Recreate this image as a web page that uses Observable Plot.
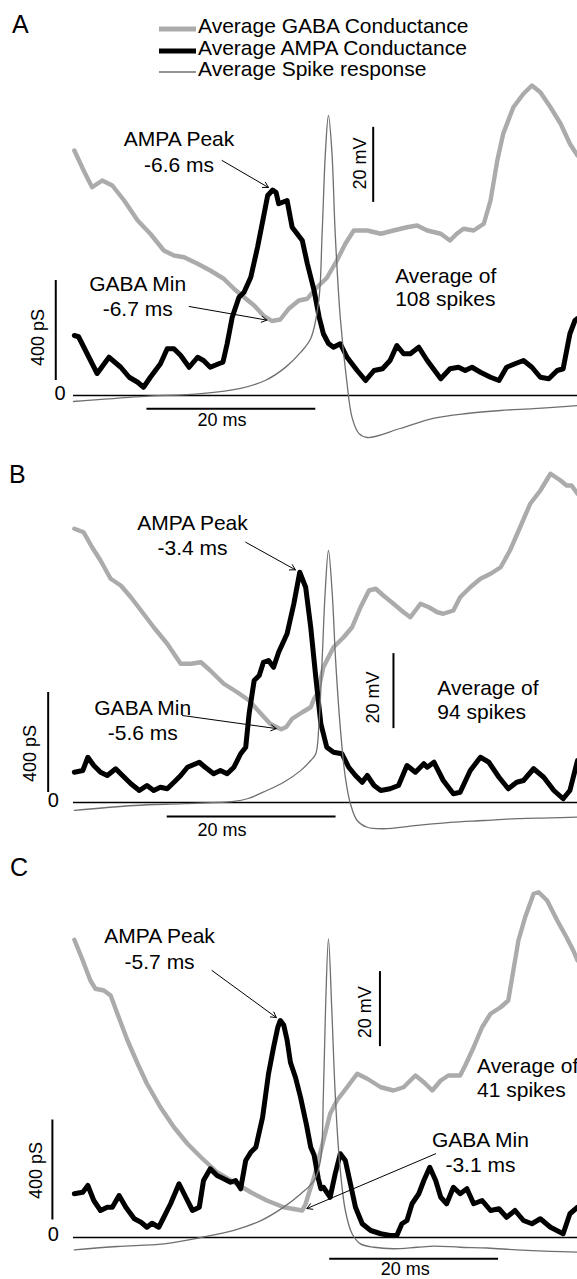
<!DOCTYPE html>
<html>
<head>
<meta charset="utf-8">
<script src="https://cdn.jsdelivr.net/npm/d3@7"></script>
<script src="https://cdn.jsdelivr.net/npm/@observablehq/plot@0.6"></script>
<style>
  html, body { margin: 0; padding: 0; background: #fff; overflow: hidden; }
  #figure { position: relative; width: 577px; height: 1279px; overflow: hidden; background: #fff; }
  #figure > svg { position: absolute; left: 0; }
</style>
</head>
<body>
<div id="figure"></div>
<script>
const FONT = '"Liberation Sans", Arial, Helvetica, sans-serif';

// Time relative to the peak of the averaged spike (ms); same window in every panel
const tDomain = [-30.2, 29.5];
// Membrane potential that sits on the 0 pS line, and how many pS one mV spans
// (the 20 mV bar is drawn as tall as 300 pS)
const vAtZero = -60;
const pSperMV = 15;

// Scale-bar sizes
const msBar = 20, pSBar = 400, mVBar = 20;

const seriesNames = ["Average GABA Conductance", "Average AMPA Conductance", "Average Spike response"];
const panelLetters = ["A", "B", "C"];
const spikeCounts = [108, 94, 41];

// ---------- Panel A ----------
const gabaA_t  = [-30.1,-29.0,-28.0,-26.8,-25.6,-24.2,-22.6,-21.1,-19.5,-18.3,-17.1,-15.5,-14.0,-12.4,-11.2,-10.0,-8.8,-7.7,-6.7,-5.7,-4.7,-3.5,-2.5,-1.6,-0.2,1.0,2.0,3.0,4.6,6.2,7.7,9.3,10.5,11.7,13.3,14.4,15.2,16.0,17.2,18.4,19.2,20.0,20.7,21.9,23.1,24.1,25.1,26.3,27.5,28.6,29.5];
const gabaA_pS = [980,900,833,860,840,780,700,647,580,560,553,527,500,467,427,393,360,320,298,304,347,380,387,425,470,540,607,660,660,647,660,673,680,660,647,620,647,667,660,687,780,940,1047,1153,1207,1240,1213,1153,1087,1007,960];

const ampaA_t  = [-30.1,-29.6,-28.6,-27.4,-26.0,-24.6,-23.6,-22.6,-21.9,-21.1,-19.9,-19.1,-18.3,-17.5,-16.5,-15.5,-14.8,-14.0,-13.0,-12.5,-12.0,-11.4,-10.6,-10.0,-9.2,-8.4,-7.7,-7.2,-6.6,-6.2,-5.9,-4.9,-4.3,-3.1,-2.5,-1.7,-1.1,-0.6,0.0,0.6,1.4,2.2,3.4,4.4,5.4,6.4,7.3,8.1,8.9,9.7,10.7,11.7,13.3,14.4,15.4,16.2,17.0,18.0,19.2,20.2,21.1,22.1,23.1,24.1,25.1,26.1,27.1,27.8,28.6,29.2,29.5];
const ampaA_pS = [240,235,168,88,153,113,73,53,33,73,127,187,187,160,113,153,140,113,127,133,207,313,393,413,473,593,713,800,822,812,767,780,673,620,527,420,313,247,208,193,207,153,100,60,100,107,140,200,167,167,193,140,67,107,113,100,113,93,73,60,113,127,140,113,73,67,100,107,247,300,308];

const vmA_t  = [-30.2,-22.2,-15.1,-10.4,-7.5,-5.1,-3.3,-2.1,-1.15,-0.75,-0.35,0,0.4,0.8,1.4,2.2,2.8,3.6,4.6,8.5,12.4,16.4,20.4,24.3,28.3,29.5];
const vmA_mV = [-61.6,-60.3,-59.5,-58.1,-56.0,-52.5,-48.5,-44.8,-34.7,-16.8,5.3,14.7,5.3,-16.8,-39.2,-56.8,-65.9,-70.1,-71.2,-68.8,-66.1,-64.8,-64.0,-63.5,-62.9,-62.7];

// ---------- Panel B ----------
const gabaB_t  = [-30.1,-29.0,-28.0,-27.0,-25.8,-24.6,-23.4,-22.2,-20.7,-19.1,-17.5,-16.3,-15.1,-14.0,-12.4,-10.8,-9.4,-8.0,-6.9,-6.0,-5.6,-5.0,-4.3,-3.1,-2.1,-1.7,-1.3,-0.6,0.6,1.8,2.8,3.8,4.8,5.6,6.5,7.7,8.9,9.7,10.9,11.9,12.9,13.6,14.8,15.6,16.8,18.0,19.2,20.4,21.5,22.7,23.9,25.1,26.3,27.5,28.2,28.8,29.5];
const gabaB_pS = [1095,1081,1021,968,895,868,821,768,701,635,555,555,561,528,475,441,408,355,315,299,293,302,335,361,381,415,435,541,621,661,701,781,848,855,828,795,761,741,795,781,761,755,768,821,861,895,915,941,1008,1101,1195,1248,1315,1288,1268,1268,1235];

const ampaB_t  = [-30.1,-29.1,-28.5,-27.8,-27.0,-26.2,-25.2,-24.4,-23.4,-22.4,-21.5,-20.7,-19.9,-19.1,-18.3,-17.5,-16.7,-15.3,-14.6,-13.6,-12.8,-12.0,-11.2,-10.4,-9.8,-9.4,-8.8,-8.2,-7.7,-7.1,-6.5,-5.9,-4.9,-4.1,-3.4,-2.7,-2.1,-1.5,-0.9,-0.2,0.6,1.6,2.4,3.2,4.0,4.6,5.4,6.2,7.3,8.3,9.3,10.3,11.3,11.7,12.5,13.6,14.8,15.6,16.8,18.0,19.0,20.2,21.3,22.3,23.1,24.3,25.5,26.7,27.8,28.6,29.5];
const ampaB_pS = [121,128,181,148,121,108,135,108,75,48,68,48,61,55,81,108,141,161,141,115,128,115,141,195,221,355,488,508,561,568,541,601,675,795,921,861,701,501,315,221,201,195,141,108,81,108,68,48,55,68,148,121,155,141,161,88,35,41,128,181,161,101,55,81,88,135,101,48,15,48,168];

const vmB_t  = [-30.1,-23.0,-17.1,-11.2,-9.6,-7.3,-5.3,-3.3,-2.1,-1.5,-1.15,-0.75,-0.4,0,0.45,0.85,1.4,2.0,2.6,3.4,4.6,6.5,10.5,14.4,18.4,22.3,26.3,29.5];
const vmB_mV = [-62.1,-60.8,-60.3,-59.7,-59.0,-56.8,-54.6,-51.5,-48.8,-47.0,-40.0,-22.1,-4.4,7.2,-4.4,-22.1,-40.0,-53.3,-60.3,-64.8,-66.6,-67.0,-66.1,-65.3,-64.8,-64.3,-64.1,-63.9];

// ---------- Panel C ----------
const gabaC_t  = [-30.1,-29.1,-28.2,-27.6,-26.6,-25.8,-25.0,-23.8,-22.6,-21.5,-19.9,-18.3,-16.7,-15.1,-13.2,-11.2,-9.2,-7.3,-5.3,-3.1,-2.7,-2.1,-1.7,-1.2,-0.6,0.2,1.0,2.2,3.4,4.6,6.2,7.7,8.9,10.3,11.3,12.3,13.3,14.2,15.6,16.2,17.2,18.2,19.2,20.4,21.3,21.9,22.5,23.3,24.3,24.9,25.9,27.1,28.2,29.0,29.5];
const gabaC_pS = [1191,1108,1028,995,988,968,895,788,695,615,521,441,375,321,261,221,181,148,121,108,135,201,241,308,388,495,548,601,655,635,601,588,601,648,621,588,628,648,648,688,761,841,895,921,948,1068,1188,1281,1375,1381,1348,1268,1201,1148,1108];

const ampaC_t  = [-30.1,-29.1,-28.5,-27.8,-27.0,-26.2,-25.6,-24.8,-24.0,-23.0,-22.2,-21.5,-20.9,-20.1,-19.5,-18.7,-17.7,-16.9,-16.1,-15.3,-14.8,-14.0,-13.2,-12.4,-11.6,-11.0,-10.4,-9.8,-9.2,-8.6,-7.8,-7.1,-6.5,-6.0,-5.7,-5.3,-4.9,-4.5,-3.9,-3.3,-2.6,-2.1,-1.7,-1.2,-0.9,-0.6,0.2,0.8,1.4,2.0,2.6,3.2,4.0,5.0,6.2,7.3,8.1,8.7,9.3,9.9,10.7,11.3,12.0,12.7,13.3,14.0,14.8,15.6,16.4,17.2,18.2,19.2,20.2,21.1,22.1,23.1,24.1,25.1,26.3,27.8,28.6,29.5];
const ampaC_pS = [175,181,208,148,108,121,121,168,121,75,61,41,57,41,81,135,215,161,108,121,228,275,248,235,221,228,195,308,341,361,481,655,761,841,868,850,790,700,640,560,450,361,330,235,195,201,161,255,335,308,215,121,55,28,15,8,8,55,68,135,175,228,281,228,161,135,201,175,195,135,148,108,115,81,108,68,55,75,41,15,95,121];

const vmC_t  = [-30.1,-25.0,-19.5,-15.1,-11.2,-8.0,-5.3,-3.3,-1.7,-0.95,-0.6,-0.35,0,0.4,0.8,1.3,2.0,2.8,3.8,5.4,7.7,10.5,12.5,15.6,18.8,22.3,26.3,29.5];
const vmC_mV = [-63.3,-62.4,-61.7,-60.0,-58.1,-55.5,-51.9,-48.4,-44.8,-39.5,-21.7,0.5,19.6,0.5,-21.7,-39.5,-52.8,-59.0,-61.7,-62.6,-63.0,-62.6,-62.3,-62.6,-62.8,-63.3,-63.7,-63.9];

// ---------- layout of each panel (positions in ms / pS / mV) ----------
const layouts = [
  { top: 0,   height: 440, base: 395,
    ampaLabel: [-17.7, 978], ampaFrom: [-12.6, 940],
    gabaLabel: [-22.6, 400], gabaFrom: [-16.5, 356],
    countLabel: [7.9, 434],
    pSBarAt: -32.3, pSBarFrom: 60, pSLabel: [-34.4, 232], zeroLabel: [-31.8, 8],
    msBarFrom: -21.5, msBarAt: -53, msLabel: [-12.6, -100],
    mVBarAt: 5.3, mVBarFrom: -8.5, mVLabel: [3.8, 928] },
  { top: 440, height: 400, base: 362,
    ampaLabel: [-16.1, 1073], ampaFrom: [-9.8, 1041],
    gabaLabel: [-22.0, 331], gabaFrom: [-17.3, 348],
    countLabel: [12.9, 413],
    pSBarAt: -33.2, pSBarFrom: 40, pSLabel: [-35.3, 196], zeroLabel: [-32.6, 6],
    msBarFrom: -19.1, msBarAt: -56, msLabel: [-12.6, -112],
    mVBarAt: 7.7, mVBarFrom: -40.3, mVLabel: [5.3, 420] },
  { top: 840, height: 439, base: 397,
    ampaLabel: [-20.0, 1158], ampaFrom: [-13.8, 1068],
    gabaLabel: [18.0, 345], gabaFrom: [12.7, 335],
    countLabel: [17.6, 640],
    pSBarAt: -32.7, pSBarFrom: 70, pSLabel: [-34.6, 268], zeroLabel: [-32.6, 12],
    msBarFrom: 0.15, msBarAt: -85, msLabel: [9.1, -126],
    mVBarAt: 6.1, mVBarFrom: -9.1, mVLabel: [4.4, 901] }
];

const series = [
  { gabaT: gabaA_t, gabaPS: gabaA_pS, ampaT: ampaA_t, ampaPS: ampaA_pS, vmT: vmA_t, vmMV: vmA_mV },
  { gabaT: gabaB_t, gabaPS: gabaB_pS, ampaT: ampaB_t, ampaPS: ampaB_pS, vmT: vmB_t, vmMV: vmB_mV },
  { gabaT: gabaC_t, gabaPS: gabaC_pS, ampaT: ampaC_t, ampaPS: ampaC_pS, vmT: vmC_t, vmMV: vmC_mV }
];

// line styles
const GABA_COLOR = "#ababab", AMPA_COLOR = "#000", VM_COLOR = "#6f6f6f";
const GABA_W = 4.4, AMPA_W = 5, VM_W = 1.3;

const toPS = mV => (mV - vAtZero) * pSperMV;
const pairs = (ts, vs) => ts.map((t, i) => ({ t, v: vs[i] }));
const msText = t => `${t.toFixed(1)} ms`;

function drawPanel(s, L, count) {
  const gaba = pairs(s.gabaT, s.gabaPS);
  const ampa = pairs(s.ampaT, s.ampaPS);
  const vm = s.vmT.map((t, i) => ({ t, v: toPS(s.vmMV[i]) }));
  const peak = d3.greatest(ampa, d => d.v);
  const dip = d3.least(gaba, d => d.v);
  const txt = { fontFamily: FONT, fill: "#000" };

  return Plot.plot({
    width: 577,
    height: L.height,
    style: { background: "none", fontFamily: FONT, color: "#000" },
    x: { domain: tDomain, range: [73, 577], axis: null },
    y: { domain: [0, pSBar], range: [L.base, L.base - 100], axis: null },
    marks: [
      // zero-conductance line
      Plot.ruleY([{ v: 0, x1: tDomain[0], x2: tDomain[1] }], { y: "v", x1: "x1", x2: "x2", stroke: "#000", strokeWidth: 1.6 }),
      // traces
      Plot.line(gaba, { x: "t", y: "v", stroke: GABA_COLOR, strokeWidth: GABA_W, strokeLinejoin: "round", strokeLinecap: "round" }),
      Plot.line(ampa, { x: "t", y: "v", stroke: AMPA_COLOR, strokeWidth: AMPA_W, strokeLinejoin: "round", strokeLinecap: "round" }),
      Plot.line(vm, { x: "t", y: "v", stroke: VM_COLOR, strokeWidth: VM_W, curve: "catmull-rom" }),
      // scale bars
      Plot.ruleX([{ t: L.pSBarAt, y1: L.pSBarFrom, y2: L.pSBarFrom + pSBar }], { x: "t", y1: "y1", y2: "y2", stroke: "#000", strokeWidth: 2 }),
      Plot.ruleY([{ v: L.msBarAt, x1: L.msBarFrom, x2: L.msBarFrom + msBar }], { y: "v", x1: "x1", x2: "x2", stroke: "#000", strokeWidth: 2 }),
      Plot.ruleX([{ t: L.mVBarAt, y1: toPS(L.mVBarFrom), y2: toPS(L.mVBarFrom + mVBar) }], { x: "t", y1: "y1", y2: "y2", stroke: "#000", strokeWidth: 2 }),
      Plot.text([`${pSBar} pS`], { x: L.pSLabel[0], y: L.pSLabel[1], text: d => d, rotate: -90, fontSize: 18, ...txt }),
      Plot.text(["0"], { x: L.zeroLabel[0], y: L.zeroLabel[1], text: d => d, fontSize: 20, ...txt }),
      Plot.text([`${msBar} ms`], { x: L.msLabel[0], y: L.msLabel[1], text: d => d, fontSize: 18, ...txt }),
      Plot.text([`${mVBar} mV`], { x: L.mVLabel[0], y: L.mVLabel[1], text: d => d, rotate: -90, fontSize: 18, ...txt }),
      // annotations
      Plot.text([`AMPA Peak\n${msText(peak.t)}`], { x: L.ampaLabel[0], y: L.ampaLabel[1], text: d => d, fontSize: 21, lineHeight: 1.2, ...txt }),
      Plot.arrow([{ x1: L.ampaFrom[0], y1: L.ampaFrom[1], x2: peak.t, y2: peak.v }],
        { x1: "x1", y1: "y1", x2: "x2", y2: "y2", stroke: "#000", strokeWidth: 1, headLength: 9, insetEnd: 5 }),
      Plot.text([`GABA Min\n${msText(dip.t)}`], { x: L.gabaLabel[0], y: L.gabaLabel[1], text: d => d, fontSize: 21, lineHeight: 1.2, ...txt }),
      Plot.arrow([{ x1: L.gabaFrom[0], y1: L.gabaFrom[1], x2: dip.t, y2: dip.v }],
        { x1: "x1", y1: "y1", x2: "x2", y2: "y2", stroke: "#000", strokeWidth: 1, headLength: 9, insetEnd: 5 }),
      Plot.text([`Average of\n${count} spikes`], { x: L.countLabel[0], y: L.countLabel[1], text: d => d, textAnchor: "start", fontSize: 21, lineHeight: 1.12, ...txt })
    ]
  });
}

const figure = document.getElementById("figure");
series.forEach((s, i) => {
  const svg = drawPanel(s, layouts[i], spikeCounts[i]);
  svg.style.top = layouts[i].top + "px";
  figure.appendChild(svg);
});

// panel letters and the legend, drawn on top
const overlay = d3.select(figure).append("svg")
  .attr("width", 577).attr("height", 1279)
  .style("top", "0px").style("pointer-events", "none")
  .style("font-family", FONT);

const letterBaselines = [33, 483, 876];
const letterLeft = [12, 9, 10];
panelLetters.forEach((l, i) => {
  overlay.append("text").attr("x", letterLeft[i]).attr("y", letterBaselines[i])
    .attr("font-size", 25).text(l);
});

const legendStyle = [
  { stroke: GABA_COLOR, width: 5 },
  { stroke: AMPA_COLOR, width: 5 },
  { stroke: VM_COLOR, width: 1.3 }
];
const legendBaselines = [33, 55, 76];
seriesNames.forEach((name, i) => {
  const yb = legendBaselines[i];
  overlay.append("line").attr("x1", 159).attr("x2", 196)
    .attr("y1", yb - 4).attr("y2", yb - 4)
    .attr("stroke", legendStyle[i].stroke).attr("stroke-width", legendStyle[i].width);
  overlay.append("text").attr("x", 198).attr("y", yb).attr("font-size", 21).text(name);
});
</script>
</body>
</html>
